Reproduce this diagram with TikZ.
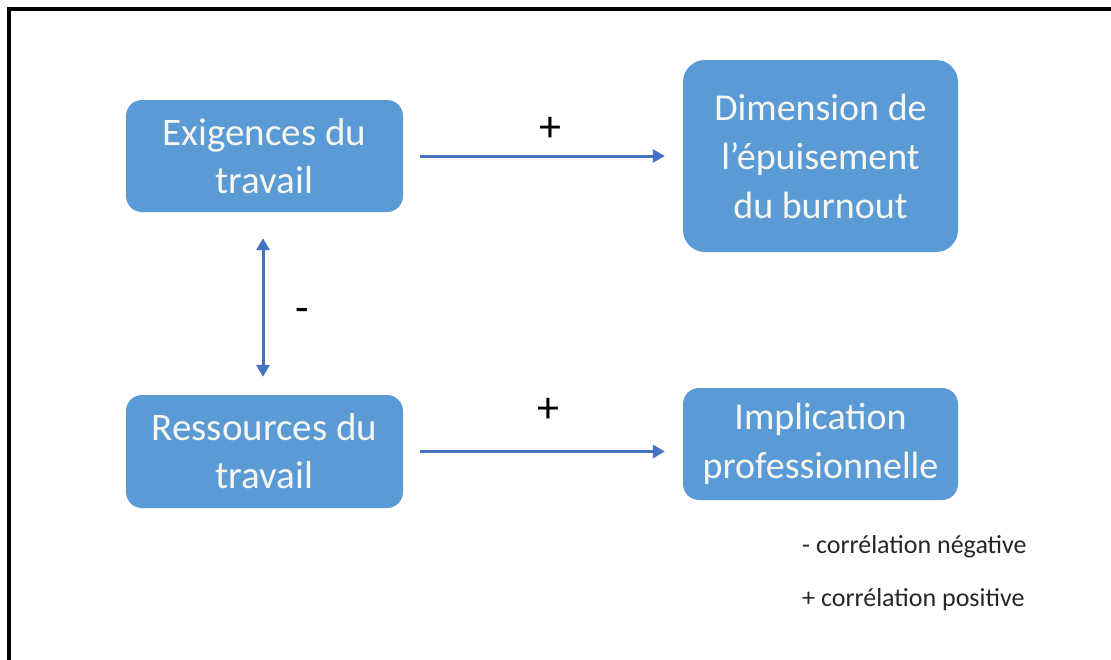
\documentclass[tikz,border=0pt]{standalone}
\usepackage{fontspec}
\setmainfont{Carlito}
\usetikzlibrary{arrows.meta}
\definecolor{boxblue}{HTML}{5B9BD5}
\definecolor{linkblue}{HTML}{4472C4}
\definecolor{boxtext}{HTML}{F7F7F0}
\definecolor{legendtext}{HTML}{262626}
\tikzset{
  concept/.style={fill=boxblue, rounded corners=16pt, text=boxtext,
    align=center, inner sep=0pt,
    font=\fontsize{39}{48}\selectfont},
  outcome/.style={concept, font=\fontsize{38}{49}\selectfont},
  link/.style={draw=linkblue, line width=3pt,
    -{Triangle[length=12pt,width=13pt]}},
  sign/.style={text=black, font=\fontsize{44}{44}\selectfont, inner sep=0pt},
  legend/.style={text=legendtext, anchor=west, inner sep=0pt,
    font=\fontsize{26}{26}\selectfont},
}
\begin{document}
\begin{tikzpicture}[x=1pt,y=-1pt]
  \fill[white] (0,0) rectangle (1111,659);
  \useasboundingbox (0,0) rectangle (1111,659);
  % frame along the top and left edges
  \draw[line width=4pt, line cap=rect] (9,659) -- (9,9) -- (1111,9);

  % concept boxes
  \node[concept, minimum width=277pt, minimum height=112pt] (exig) at (264.5,156)
    {Exigences du\\travail};
  \node[outcome, minimum width=275pt, minimum height=192pt, rounded corners=22pt] (epuis) at (820.5,156)
    {Dimension de\\l’épuisement\\du burnout};
  \node[concept, minimum width=277pt, minimum height=113pt] (ress) at (264.5,451.5)
    {Ressources du\\travail};
  \node[outcome, minimum width=275pt, minimum height=112pt] (impl) at (820.5,444)
    {Implication\\professionnelle};

  % links between concepts
  \draw[link, shorten <=17pt, shorten >=18pt] (exig.east) -- (epuis.west);
  \coordinate (implin) at (impl.west |- ress.east);
  \draw[link, shorten <=17pt, shorten >=18pt] (ress.east) -- (implin);
  \draw[link, {Triangle[length=12pt,width=13pt]}-{Triangle[length=12pt,width=13pt]},
    shorten <=26pt, shorten >=18pt] ([xshift=-1.5pt]exig.south) -- ([xshift=-1.5pt]ress.north);

  % signs of the correlations
  \node[sign] (plusA) at (550,129) {+};
  \node[sign] (plusB) at (548,410) {+};
  \node[sign] (minus) at (302,315) {-};

  % legend
  \node[legend] (legneg) at (802,547) {- corrélation négative};
  \node[legend] (legpos) at (802,600) {+ corrélation positive};
\end{tikzpicture}
\end{document}
